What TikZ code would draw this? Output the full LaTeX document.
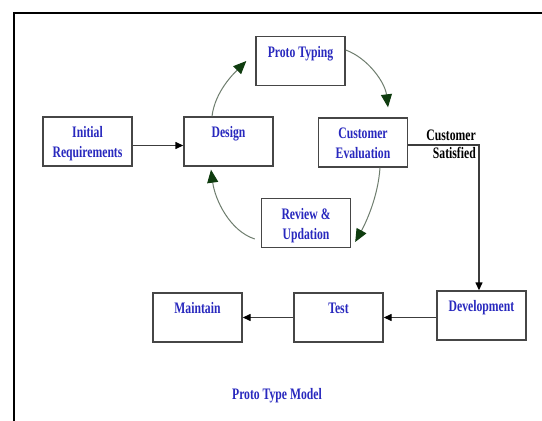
\documentclass[tikz,border=0pt]{standalone}
\usepackage{fontspec}
\setmainfont{Liberation Serif}
\newfontfamily\boxfont{Liberation Serif}[FakeStretch=0.73,BoldFeatures={FakeStretch=0.73}]
\usetikzlibrary{arrows.meta}

\definecolor{labelblue}{RGB}{40,40,190}
\definecolor{boxgray}{RGB}{70,70,70}
\definecolor{linegray}{RGB}{60,60,60}
\definecolor{loopgray}{RGB}{110,125,110}
\definecolor{loopgreen}{RGB}{15,60,15}

% two text lines of fixed height, so every box puts its text at the same place
\newcommand\linestrut{\rule[-4pt]{0pt}{20pt}}
\newcommand\twoline[2]{\linestrut#1\\\linestrut#2}
\newcommand\smallstrut{\rule[-2pt]{0pt}{14pt}}

\begin{document}
\begin{tikzpicture}[x=1pt,y=-1pt,
  stage/.style={draw=boxgray, line width=1.4pt, minimum width=89pt,
    minimum height=49pt, inner sep=0pt, align=center, text=labelblue,
    font=\boxfont\bfseries\fontsize{16}{20}\selectfont},
  flow/.style={draw=linegray, line width=1.4pt,
    -{Triangle[length=8pt,width=7pt,color=black]}},
  loop/.style={draw=loopgray, line width=1pt,
    -{Triangle[length=13pt,width=11pt,color=loopgreen]}},
  note/.style={inner sep=0pt, font=\boxfont\bfseries\fontsize{16}{18}\selectfont}]

\useasboundingbox (0,0) rectangle (542,421);
\fill[white] (0,0) rectangle (542,421);

% outer frame (only top and left edges are in view)
\draw[line width=2.5pt] (542,13) -- (14,13) -- (14,421);

% stages
\node[stage] (init)   at (87.5,141.5)  {\twoline{Initial}{Requirements}};
\node[stage] (design) at (228.5,141.5) {\twoline{Design}{}};
\node[stage] (proto)  at (300.5,61)    {\twoline{Proto Typing}{}};
\node[stage] (eval)   at (363,142.5)   {\twoline{Customer}{Evaluation}};
\node[stage] (review) at (306,223)     {\twoline{Review \&}{Updation}};
\node[stage] (dev)    at (481.5,315.5) {\twoline{Development}{}};
\node[stage] (test)   at (338.5,317.5) {\twoline{Test}{}};
\node[stage] (maint)  at (197.5,317.5) {\twoline{Maintain}{}};

% labels
\node[note, align=right, anchor=north east] (sat) at (476,128)
  {\smallstrut Customer\\\smallstrut Satisfied};
\node[note, text=labelblue] (title) at (277,396) {Proto Type Model};

% straight flow
\draw[flow] ([yshift=-4pt]init.east) -- ([yshift=-4pt]design.west);
\draw[flow] ([yshift=-2.5pt]eval.east) -| ([xshift=-2.5pt]dev.north);
\draw[flow] (dev.west |- test.east) -- (test.east);
\draw[flow] (test.west) -- (maint.east);

% prototyping loop
\draw[loop] ([xshift=-16.5pt]design.north)
  .. controls +(3,-25) and +(-12,12) .. ([xshift=-9pt]proto.west);
\draw[loop] ([yshift=11pt]proto.east)
  .. controls +(22,8) and +(-3,-25) .. ([xshift=25pt,yshift=10pt]eval.north);
\draw[loop] ([xshift=17pt]eval.south)
  .. controls +(-2,30) and +(10,-18) .. ([xshift=4pt,yshift=-19pt]review.east);
\draw[loop] ([xshift=-6pt,yshift=-16pt]review.west)
  .. controls +(-25,-8) and +(4,30) .. ([xshift=-17.5pt,yshift=-3pt]design.south);
\end{tikzpicture}
\end{document}
